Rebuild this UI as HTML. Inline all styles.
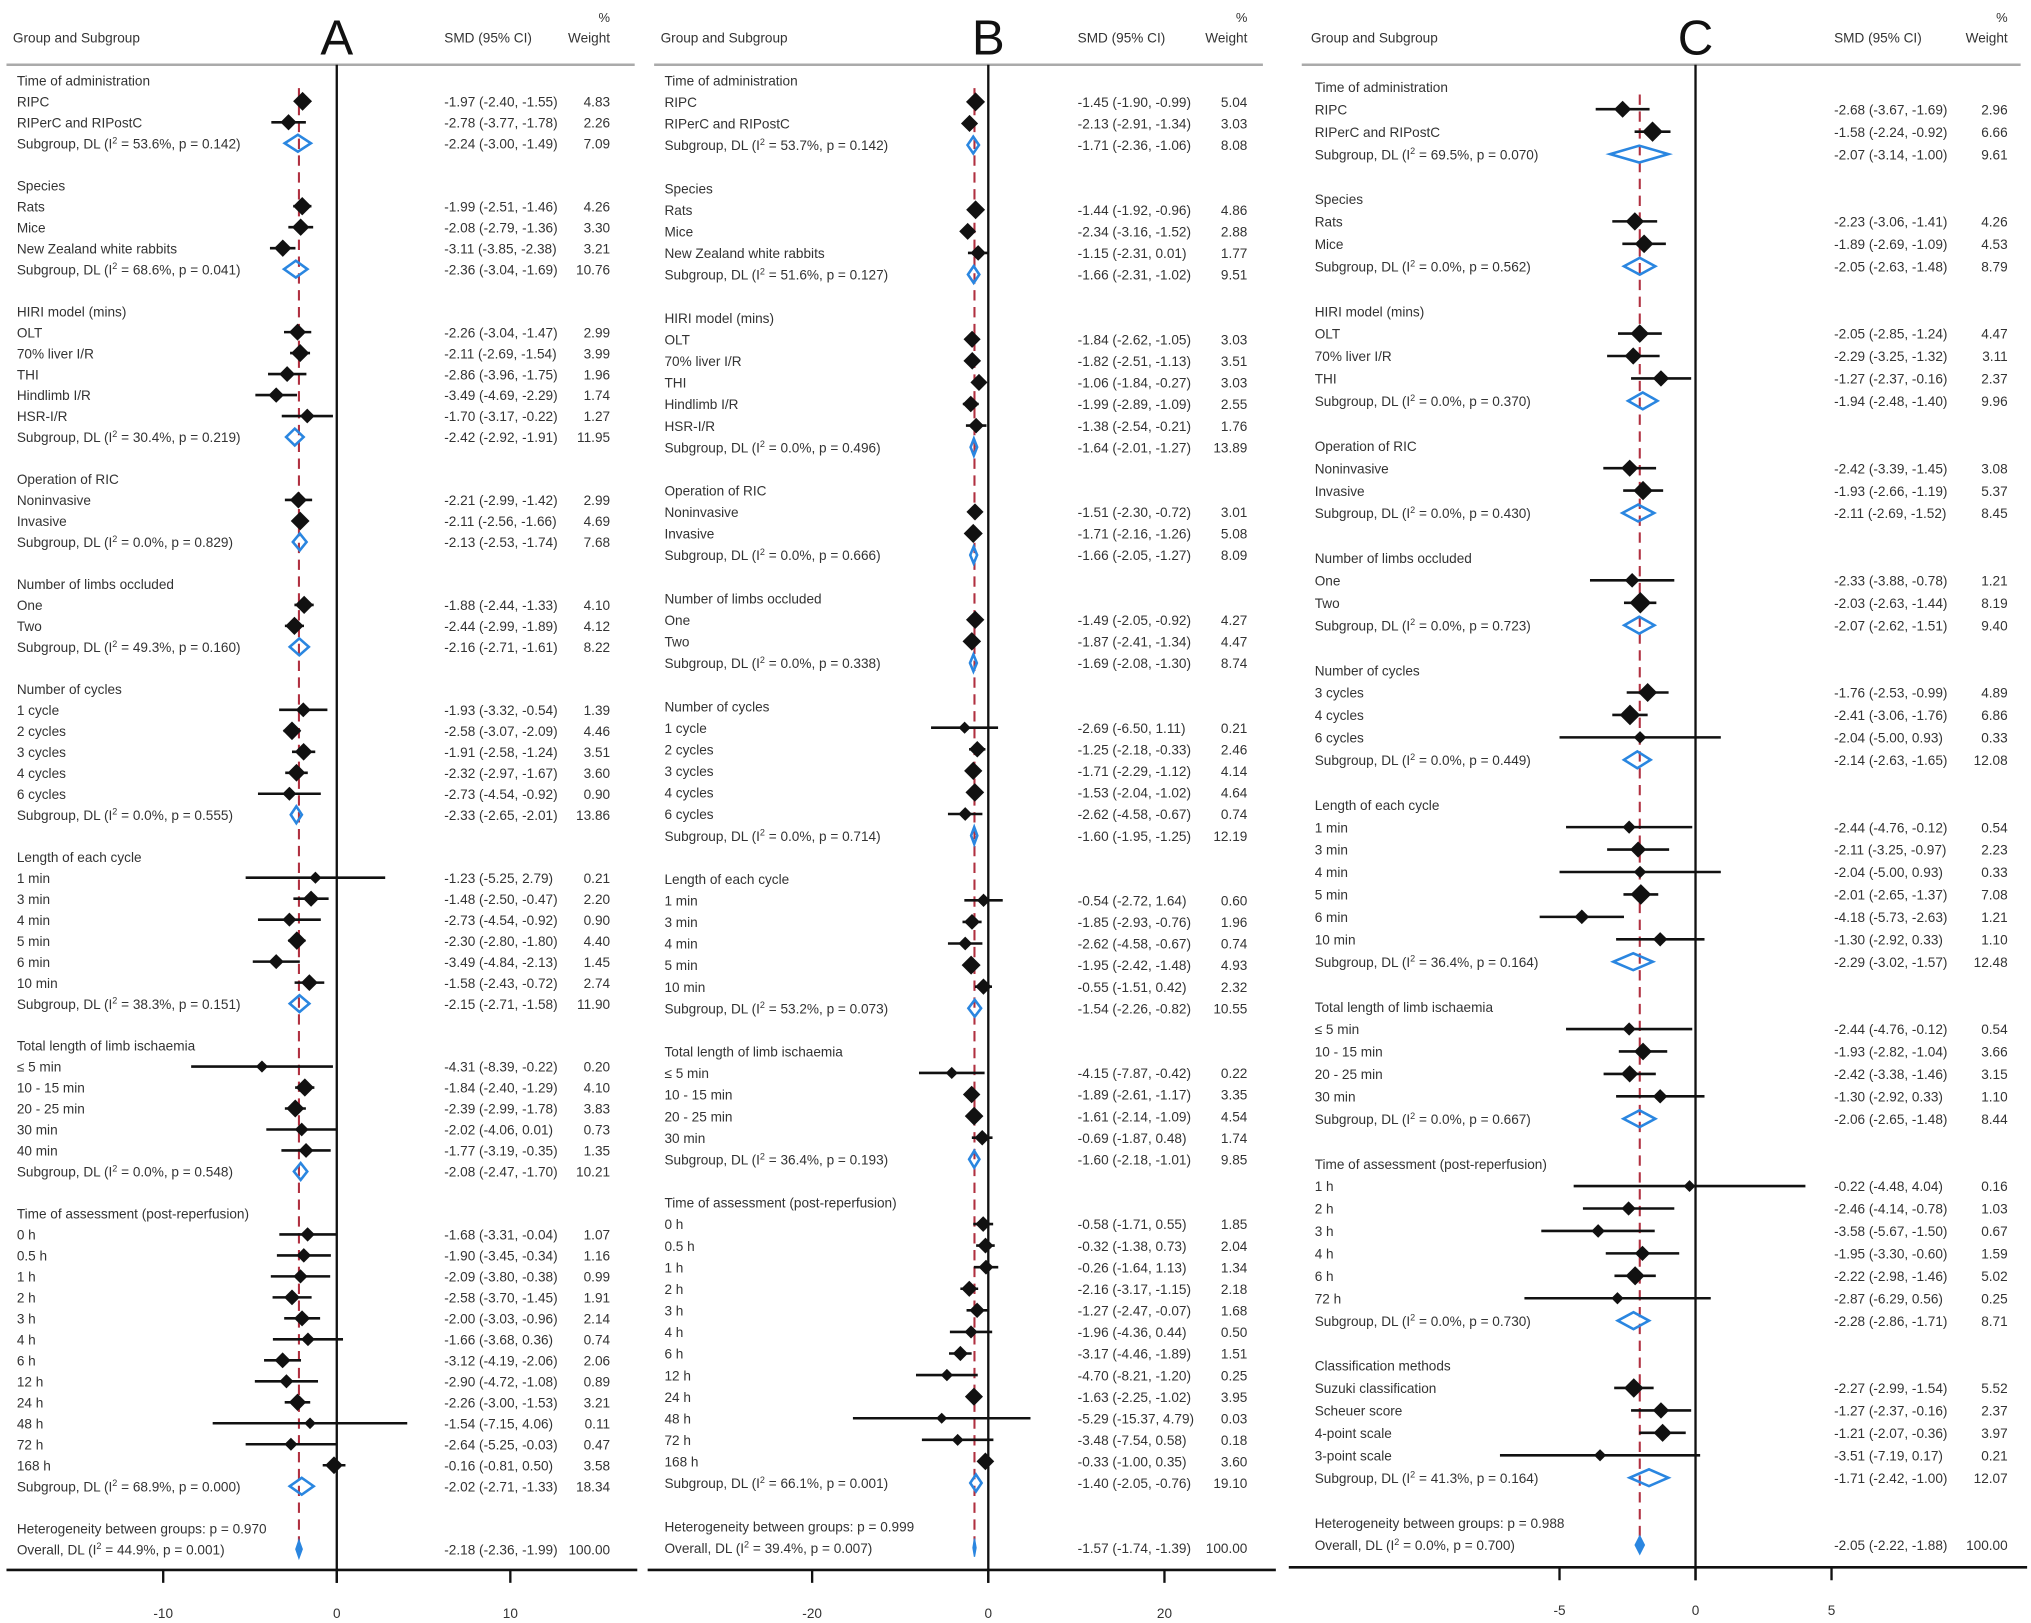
<!DOCTYPE html>
<html><head><meta charset="utf-8"><style>
html,body{margin:0;padding:0;background:#fff;}
svg{display:block;font-family:"Liberation Sans",sans-serif;}
</style></head><body>
<svg id="chart" width="2031" height="1623" viewBox="0 0 1568 1253" preserveAspectRatio="none" xmlns="http://www.w3.org/2000/svg"></svg>
<script>
// ---- Panel A data ----
const labelsA=["Time of administration","RIPC","RIPerC and RIPostC","S|53.6|0.142","","Species","Rats","Mice","New Zealand white rabbits","S|68.6|0.041","","HIRI model (mins)","OLT","70% liver I/R","THI","Hindlimb I/R","HSR-I/R","S|30.4|0.219","","Operation of RIC","Noninvasive","Invasive","S|0.0|0.829","","Number of limbs occluded","One","Two","S|49.3|0.160","","Number of cycles","1 cycle","2 cycles","3 cycles","4 cycles","6 cycles","S|0.0|0.555","","Length of each cycle","1 min","3 min","4 min","5 min","6 min","10 min","S|38.3|0.151","","Total length of limb ischaemia","≤ 5 min","10 - 15 min","20 - 25 min","30 min","40 min","S|0.0|0.548","","Time of assessment (post-reperfusion)","0 h","0.5 h","1 h","2 h","3 h","4 h","6 h","12 h","24 h","48 h","72 h","168 h","S|68.9|0.000","","H|0.970","O|44.9|0.001"];
const estA=[null,-1.97,-2.78,-2.24,null,null,-1.99,-2.08,-3.11,-2.36,null,null,-2.26,-2.11,-2.86,-3.49,-1.70,-2.42,null,null,-2.21,-2.11,-2.13,null,null,-1.88,-2.44,-2.16,null,null,-1.93,-2.58,-1.91,-2.32,-2.73,-2.33,null,null,-1.23,-1.48,-2.73,-2.30,-3.49,-1.58,-2.15,null,null,-4.31,-1.84,-2.39,-2.02,-1.77,-2.08,null,null,-1.68,-1.90,-2.09,-2.58,-2.00,-1.66,-3.12,-2.90,-2.26,-1.54,-2.64,-0.16,-2.02,null,null,-2.18];
const loA=[null,-2.40,-3.77,-3.00,null,null,-2.51,-2.79,-3.85,-3.04,null,null,-3.04,-2.69,-3.96,-4.69,-3.17,-2.92,null,null,-2.99,-2.56,-2.53,null,null,-2.44,-2.99,-2.71,null,null,-3.32,-3.07,-2.58,-2.97,-4.54,-2.65,null,null,-5.25,-2.50,-4.54,-2.80,-4.84,-2.43,-2.71,null,null,-8.39,-2.40,-2.99,-4.06,-3.19,-2.47,null,null,-3.31,-3.45,-3.80,-3.70,-3.03,-3.68,-4.19,-4.72,-3.00,-7.15,-5.25,-0.81,-2.71,null,null,-2.36];
const hiA=[null,-1.55,-1.78,-1.49,null,null,-1.46,-1.36,-2.38,-1.69,null,null,-1.47,-1.54,-1.75,-2.29,-0.22,-1.91,null,null,-1.42,-1.66,-1.74,null,null,-1.33,-1.89,-1.61,null,null,-0.54,-2.09,-1.24,-1.67,-0.92,-2.01,null,null,2.79,-0.47,-0.92,-1.80,-2.13,-0.72,-1.58,null,null,-0.22,-1.29,-1.78,0.01,-0.35,-1.70,null,null,-0.04,-0.34,-0.38,-1.45,-0.96,0.36,-2.06,-1.08,-1.53,4.06,-0.03,0.50,-1.33,null,null,-1.99];
const wtA=[null,4.83,2.26,7.09,null,null,4.26,3.30,3.21,10.76,null,null,2.99,3.99,1.96,1.74,1.27,11.95,null,null,2.99,4.69,7.68,null,null,4.10,4.12,8.22,null,null,1.39,4.46,3.51,3.60,0.90,13.86,null,null,0.21,2.20,0.90,4.40,1.45,2.74,11.90,null,null,0.20,4.10,3.83,0.73,1.35,10.21,null,null,1.07,1.16,0.99,1.91,2.14,0.74,2.06,0.89,3.21,0.11,0.47,3.58,18.34,null,null,100.00];
const ticksA=[-10,0,10];
// ---- Panel B data ----
const labelsB=["Time of administration","RIPC","RIPerC and RIPostC","S|53.7|0.142","","Species","Rats","Mice","New Zealand white rabbits","S|51.6|0.127","","HIRI model (mins)","OLT","70% liver I/R","THI","Hindlimb I/R","HSR-I/R","S|0.0|0.496","","Operation of RIC","Noninvasive","Invasive","S|0.0|0.666","","Number of limbs occluded","One","Two","S|0.0|0.338","","Number of cycles","1 cycle","2 cycles","3 cycles","4 cycles","6 cycles","S|0.0|0.714","","Length of each cycle","1 min","3 min","4 min","5 min","10 min","S|53.2|0.073","","Total length of limb ischaemia","≤ 5 min","10 - 15 min","20 - 25 min","30 min","S|36.4|0.193","","Time of assessment (post-reperfusion)","0 h","0.5 h","1 h","2 h","3 h","4 h","6 h","12 h","24 h","48 h","72 h","168 h","S|66.1|0.001","","H|0.999","O|39.4|0.007"];
const estB=[null,-1.45,-2.13,-1.71,null,null,-1.44,-2.34,-1.15,-1.66,null,null,-1.84,-1.82,-1.06,-1.99,-1.38,-1.64,null,null,-1.51,-1.71,-1.66,null,null,-1.49,-1.87,-1.69,null,null,-2.69,-1.25,-1.71,-1.53,-2.62,-1.60,null,null,-0.54,-1.85,-2.62,-1.95,-0.55,-1.54,null,null,-4.15,-1.89,-1.61,-0.69,-1.60,null,null,-0.58,-0.32,-0.26,-2.16,-1.27,-1.96,-3.17,-4.70,-1.63,-5.29,-3.48,-0.33,-1.40,null,null,-1.57];
const loB=[null,-1.90,-2.91,-2.36,null,null,-1.92,-3.16,-2.31,-2.31,null,null,-2.62,-2.51,-1.84,-2.89,-2.54,-2.01,null,null,-2.30,-2.16,-2.05,null,null,-2.05,-2.41,-2.08,null,null,-6.50,-2.18,-2.29,-2.04,-4.58,-1.95,null,null,-2.72,-2.93,-4.58,-2.42,-1.51,-2.26,null,null,-7.87,-2.61,-2.14,-1.87,-2.18,null,null,-1.71,-1.38,-1.64,-3.17,-2.47,-4.36,-4.46,-8.21,-2.25,-15.37,-7.54,-1.00,-2.05,null,null,-1.74];
const hiB=[null,-0.99,-1.34,-1.06,null,null,-0.96,-1.52,0.01,-1.02,null,null,-1.05,-1.13,-0.27,-1.09,-0.21,-1.27,null,null,-0.72,-1.26,-1.27,null,null,-0.92,-1.34,-1.30,null,null,1.11,-0.33,-1.12,-1.02,-0.67,-1.25,null,null,1.64,-0.76,-0.67,-1.48,0.42,-0.82,null,null,-0.42,-1.17,-1.09,0.48,-1.01,null,null,0.55,0.73,1.13,-1.15,-0.07,0.44,-1.89,-1.20,-1.02,4.79,0.58,0.35,-0.76,null,null,-1.39];
const wtB=[null,5.04,3.03,8.08,null,null,4.86,2.88,1.77,9.51,null,null,3.03,3.51,3.03,2.55,1.76,13.89,null,null,3.01,5.08,8.09,null,null,4.27,4.47,8.74,null,null,0.21,2.46,4.14,4.64,0.74,12.19,null,null,0.60,1.96,0.74,4.93,2.32,10.55,null,null,0.22,3.35,4.54,1.74,9.85,null,null,1.85,2.04,1.34,2.18,1.68,0.50,1.51,0.25,3.95,0.03,0.18,3.60,19.10,null,null,100.00];
const ticksB=[-20,0,20];
// ---- Panel C data ----
const labelsC=["Time of administration","RIPC","RIPerC and RIPostC","S|69.5|0.070","","Species","Rats","Mice","S|0.0|0.562","","HIRI model (mins)","OLT","70% liver I/R","THI","S|0.0|0.370","","Operation of RIC","Noninvasive","Invasive","S|0.0|0.430","","Number of limbs occluded","One","Two","S|0.0|0.723","","Number of cycles","3 cycles","4 cycles","6 cycles","S|0.0|0.449","","Length of each cycle","1 min","3 min","4 min","5 min","6 min","10 min","S|36.4|0.164","","Total length of limb ischaemia","≤ 5 min","10 - 15 min","20 - 25 min","30 min","S|0.0|0.667","","Time of assessment (post-reperfusion)","1 h","2 h","3 h","4 h","6 h","72 h","S|0.0|0.730","","Classification methods","Suzuki classification","Scheuer score","4-point scale","3-point scale","S|41.3|0.164","","H|0.988","O|0.0|0.700"];
const estC=[null,-2.68,-1.58,-2.07,null,null,-2.23,-1.89,-2.05,null,null,-2.05,-2.29,-1.27,-1.94,null,null,-2.42,-1.93,-2.11,null,null,-2.33,-2.03,-2.07,null,null,-1.76,-2.41,-2.04,-2.14,null,null,-2.44,-2.11,-2.04,-2.01,-4.18,-1.30,-2.29,null,null,-2.44,-1.93,-2.42,-1.30,-2.06,null,null,-0.22,-2.46,-3.58,-1.95,-2.22,-2.87,-2.28,null,null,-2.27,-1.27,-1.21,-3.51,-1.71,null,null,-2.05];
const loC=[null,-3.67,-2.24,-3.14,null,null,-3.06,-2.69,-2.63,null,null,-2.85,-3.25,-2.37,-2.48,null,null,-3.39,-2.66,-2.69,null,null,-3.88,-2.63,-2.62,null,null,-2.53,-3.06,-5.00,-2.63,null,null,-4.76,-3.25,-5.00,-2.65,-5.73,-2.92,-3.02,null,null,-4.76,-2.82,-3.38,-2.92,-2.65,null,null,-4.48,-4.14,-5.67,-3.30,-2.98,-6.29,-2.86,null,null,-2.99,-2.37,-2.07,-7.19,-2.42,null,null,-2.22];
const hiC=[null,-1.69,-0.92,-1.00,null,null,-1.41,-1.09,-1.48,null,null,-1.24,-1.32,-0.16,-1.40,null,null,-1.45,-1.19,-1.52,null,null,-0.78,-1.44,-1.51,null,null,-0.99,-1.76,0.93,-1.65,null,null,-0.12,-0.97,0.93,-1.37,-2.63,0.33,-1.57,null,null,-0.12,-1.04,-1.46,0.33,-1.48,null,null,4.04,-0.78,-1.50,-0.60,-1.46,0.56,-1.71,null,null,-1.54,-0.16,-0.36,0.17,-1.00,null,null,-1.88];
const wtC=[null,2.96,6.66,9.61,null,null,4.26,4.53,8.79,null,null,4.47,3.11,2.37,9.96,null,null,3.08,5.37,8.45,null,null,1.21,8.19,9.40,null,null,4.89,6.86,0.33,12.08,null,null,0.54,2.23,0.33,7.08,1.21,1.10,12.48,null,null,0.54,3.66,3.15,1.10,8.44,null,null,0.16,1.03,0.67,1.59,5.02,0.25,8.71,null,null,5.52,2.37,3.97,0.21,12.07,null,null,100.00];
const ticksC=[-5,0,5];

const NS="http://www.w3.org/2000/svg";
const svg=document.getElementById('chart');
function mk(tag,attrs,parent){const e=document.createElementNS(NS,tag);for(const k in attrs)e.setAttribute(k,attrs[k]);(parent||svg).appendChild(e);return e;}
function f(v){return v.toFixed(2);}

function drawPanel(P){
  const g=mk('g',{});
  
  
  const sx=v=>P.zeroX+v*P.ppu;
  const sy=i=>P.y0+i*P.pitch;
  let t=mk('text',{x:P.labX-3,y:33,'font-size':10.5,fill:'#333'},g);t.textContent='Group and Subgroup';
  
  t=mk('text',{x:P.zeroX,y:42,'font-size':38,'text-anchor':'middle',fill:'#111'},g);t.textContent=P.id;
  
  t=mk('text',{x:P.smdX,y:33,'font-size':10.5,fill:'#333'},g);t.textContent='SMD (95% CI)';
  
  t=mk('text',{x:P.wX,y:17,'font-size':10,fill:'#333','text-anchor':'end'},g);t.textContent='%';
  
  t=mk('text',{x:P.wX,y:33,'font-size':10.5,fill:'#333','text-anchor':'end'},g);t.textContent='Weight';
  
  let l=mk('line',{x1:P.ruleL,x2:P.ruleR,y1:50,y2:50,stroke:'#aaa','stroke-width':2},g);
  
  l=mk('line',{x1:sx(0),x2:sx(0),y1:50,y2:P.axisY+10,stroke:'#111','stroke-width':1.8},g);
  
  const n=P.labels.length;
  const ov=P.est[n-1];
  l=mk('line',{x1:sx(ov),x2:sx(ov),y1:sy(0)+6,y2:sy(n-1),stroke:'#b03040','stroke-width':1.6,'stroke-dasharray':'8 5'},g);
  
  l=mk('line',{x1:P.axL,x2:P.axR,y1:P.axisY,y2:P.axisY,stroke:'#111','stroke-width':2},g);
  
  P.ticks.forEach(v=>{
    const tk=mk('line',{x1:sx(v),x2:sx(v),y1:P.axisY,y2:P.axisY+10,stroke:'#111','stroke-width':1.8},g);
    
    const tl=mk('text',{x:sx(v),y:P.axisY+37,'font-size':10.5,'text-anchor':'middle',fill:'#333'},g);tl.textContent=String(v);
    
  });
  for(let i=0;i<n;i++){
    const lab=P.labels[i];if(!lab)continue;
    const y=sy(i);
    const parts=lab.split('|');
    const tx=mk('text',{x:P.labX,y:y+4,'font-size':10.5,fill:'#333'},g);
    if(parts[0]==='S'||parts[0]==='O'){
      tx.textContent=(parts[0]==='S'?'Subgroup, DL (I':'Overall, DL (I');
      const sp=mk('tspan',{'font-size':7,dy:-4},tx);sp.textContent='2';
      const r=mk('tspan',{dy:4},tx);r.textContent=' = '+parts[1]+'%, p = '+parts[2]+')';
      
    } else if(parts[0]==='H'){
      tx.textContent='Heterogeneity between groups: p = '+parts[1];
      
    } else {
      tx.textContent=lab;
      
    }
    
    if(P.est[i]===null)continue;
    const e=P.est[i],lo=P.lo[i],hi=P.hi[i],w=P.wt[i];
    const st=mk('text',{x:P.smdX,y:y+4,'font-size':10.5,fill:'#333'},g);
    st.textContent=f(e)+' ('+f(lo)+', '+f(hi)+')';
    
    const wt=mk('text',{x:P.wX,y:y+4,'font-size':10.5,fill:'#333','text-anchor':'end'},g);
    wt.textContent=f(w);
    
    if(parts[0]==='S'){
      const d=mk('polygon',{points:`${sx(lo)},${y} ${sx(e)},${y-6.5} ${sx(hi)},${y} ${sx(e)},${y+6.5}`,fill:'none',stroke:'#2a86e0','stroke-width':2},g);
      
    } else if(parts[0]==='O'){
      const d=mk('polygon',{points:`${sx(lo)},${y} ${sx(e)},${y-7} ${sx(hi)},${y} ${sx(e)},${y+7}`,fill:'#2a86e0',stroke:'#2a86e0','stroke-width':1},g);
      
    } else {
      const ci=mk('line',{x1:sx(lo),x2:sx(hi),y1:y,y2:y,stroke:'#111','stroke-width':2},g);
      
      const h=4+Math.sqrt(w)*1.5;
      const m=mk('polygon',{points:`${sx(e)-h},${y} ${sx(e)},${y-h} ${sx(e)+h},${y} ${sx(e)},${y+h}`,fill:'#111'},g);
      
    }
  }
}
drawPanel({id:'A',labels:labelsA,est:estA,lo:loA,hi:hiA,wt:wtA,ticks:ticksA,zeroX:260,ppu:13.4,y0:62,pitch:16.2,labX:13,smdX:343,wX:471,ruleL:5,ruleR:490,axL:5,axR:492,axisY:1212});
drawPanel({id:'B',labels:labelsB,est:estB,lo:loB,hi:hiB,wt:wtB,ticks:ticksB,zeroX:763,ppu:6.8,y0:62,pitch:16.66,labX:513,smdX:832,wX:963,ruleL:505,ruleR:975,axL:500,axR:985,axisY:1212});
drawPanel({id:'C',labels:labelsC,est:estC,lo:loC,hi:hiC,wt:wtC,ticks:ticksC,zeroX:1309,ppu:21,y0:67,pitch:17.32,labX:1015,smdX:1416,wX:1550,ruleL:1005,ruleR:1560,axL:995,axR:1565,axisY:1210});
</script>
</body></html>
